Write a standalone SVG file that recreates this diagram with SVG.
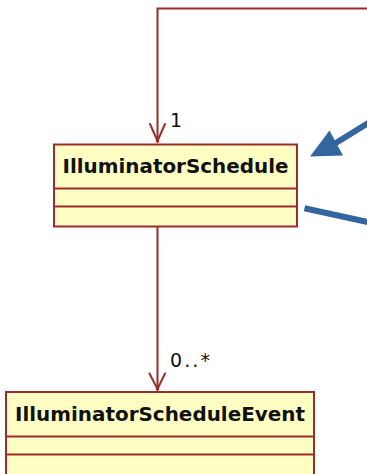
<svg xmlns="http://www.w3.org/2000/svg" width="367" height="474" viewBox="0 0 367 474">
<style>
.box{fill:#ffffc4;stroke:#9b2c2c;stroke-width:2}
.div{stroke:#9b2c2c;stroke-width:2}
.conn{fill:none;stroke:#9b2c2c;stroke-width:2}
.head{fill:none;stroke:#9b2c2c;stroke-width:2;stroke-linecap:round}
.name{font-family:"DejaVu Sans",sans-serif;font-weight:bold;font-size:20px;fill:#111}
.lbl{font-family:"DejaVu Sans",sans-serif;font-size:19px;fill:#111}
.blue{stroke:#33669e;stroke-width:6;fill:none}
</style>
<rect width="367" height="474" fill="#ffffff"/>
<g id="connectors">
<path class="conn" d="M367 8.5H157.5V141"/>
<path class="head" d="M150 124L157.5 141L165 124"/>
<circle cx="157.5" cy="141" r="1.8" fill="#9b2c2c"/>
<text class="lbl" x="170" y="127">1</text>
<path class="conn" d="M157.5 226V389"/>
<path class="head" d="M149.5 373.5L157.5 389L165 373.5"/>
<circle cx="157.5" cy="389" r="1.8" fill="#9b2c2c"/>
<text class="lbl" x="170" y="366.5" textLength="40" lengthAdjust="spacing">0..*</text>
</g>
<g id="IlluminatorSchedule">
<rect class="box" x="54" y="144.5" width="243" height="82"/>
<line class="div" x1="54" y1="188.5" x2="297" y2="188.5"/>
<line class="div" x1="54" y1="206.5" x2="297" y2="206.5"/>
<text class="name" x="62.5" y="172.5" textLength="226" lengthAdjust="spacingAndGlyphs">IlluminatorSchedule</text>
</g>
<g id="IlluminatorScheduleEvent">
<rect class="box" x="6" y="392" width="308" height="100"/>
<line class="div" x1="6" y1="436.5" x2="314" y2="436.5"/>
<line class="div" x1="6" y1="454.5" x2="314" y2="454.5"/>
<text class="name" x="15" y="420.5" textLength="290" lengthAdjust="spacingAndGlyphs">IlluminatorScheduleEvent</text>
</g>
<g id="annotations">
<path class="blue" d="M335 143.5L370 122"/>
<polygon points="310,156.5 329.5,130.5 343,155.5" fill="#33669e"/>
<path class="blue" d="M304.5 208.3L370 222.5"/>
</g>
</svg>
